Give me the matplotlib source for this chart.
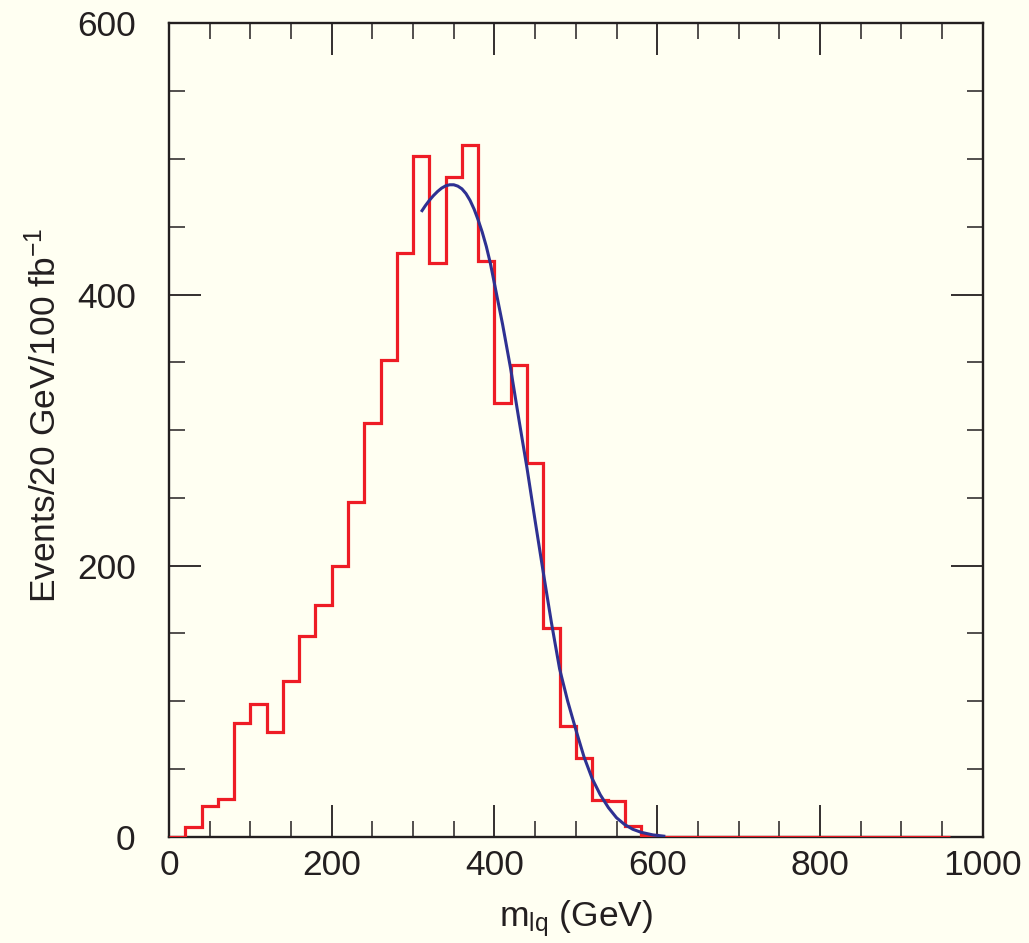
import matplotlib
matplotlib.use("Agg")
import matplotlib.pyplot as plt
from matplotlib.ticker import MultipleLocator

# ---- data ----
bin_edges = list(range(0, 980, 20))  # 0 .. 960 GeV, 20 GeV bins
events = [0, 7, 23, 28, 84, 98, 77, 115, 148, 171,
          200, 247, 305, 352, 431, 502, 423, 487, 510, 425,
          320, 348, 276, 154, 82, 58, 27, 26, 8, 1,
          0, 0, 0, 0, 0, 0, 0, 0, 0, 0,
          0, 0, 0, 0, 0, 0, 0, 0]

fit_x = [310, 315, 320, 325, 330, 335, 340, 345, 350, 355, 360, 365, 370, 375,
         380, 385, 390, 395, 400, 410, 420, 430, 440, 450, 460, 470, 480, 490,
         500, 510, 520, 530, 540, 550, 560, 570, 580, 595, 610]
fit_y = [461, 465.5, 469.5, 473, 476, 478.5, 480.2, 481, 481, 480, 478, 474.5,
         469.5, 463, 455, 446, 435.5, 423, 408, 378, 345, 308, 272, 233, 195,
         158, 124, 100, 79, 59, 43, 31, 21.5, 14, 9, 5.5, 3.3, 1.3, 0.3]

x_ticks = [0, 200, 400, 600, 800, 1000]
y_ticks = [0, 200, 400, 600]

bg = "#fffff2"
red = "#ee1c25"
blue = "#2e3192"
ink = "#231f20"

plt.rcParams["font.family"] = ["Liberation Sans", "DejaVu Sans"]
plt.rcParams["mathtext.fontset"] = "custom"
plt.rcParams["mathtext.rm"] = "Liberation Sans"
plt.rcParams["mathtext.it"] = "Liberation Sans:italic"
plt.rcParams["mathtext.bf"] = "Liberation Sans:bold"

fig = plt.figure(figsize=(10.29, 9.43), dpi=100, facecolor=bg)
ax = fig.add_axes([0.1642, 0.1127, 0.7908, 0.8624], facecolor=bg)

ax.stairs(events, bin_edges, baseline=None, color=red, linewidth=2.3, zorder=3)
ax.plot(fit_x, fit_y, color=blue, linewidth=2.2, zorder=4,
        solid_joinstyle="round", solid_capstyle="butt")

ax.set_xlim(0, 1000)
ax.set_ylim(0, 600)
ax.set_xticks(x_ticks)
ax.set_yticks(y_ticks)
ax.xaxis.set_minor_locator(MultipleLocator(50))
ax.yaxis.set_minor_locator(MultipleLocator(50))

for sp in ax.spines.values():
    sp.set_color(ink)
    sp.set_linewidth(1.7)

ax.tick_params(which="both", direction="in", top=True, right=True, color=ink,
               labelcolor=ink)
ax.tick_params(which="major", length=23, width=1.3, labelsize=25.5)
ax.tick_params(which="minor", length=11.5, width=1.1)
ax.tick_params(axis="x", which="major", pad=9)
ax.tick_params(axis="y", which="major", pad=24)

ax.set_xlabel(r"m$_{\mathrm{lq}}$ (GeV)", fontsize=25.5, color=ink)
ax.xaxis.set_label_coords(0.5, -0.075)
ax.set_ylabel(r"Events/20 GeV/100 fb$^{-1}$", fontsize=25.5, color=ink, va="center")
ax.yaxis.set_label_coords(-0.153, 0.518)

fig.savefig("out.png", dpi=100, facecolor=bg)
